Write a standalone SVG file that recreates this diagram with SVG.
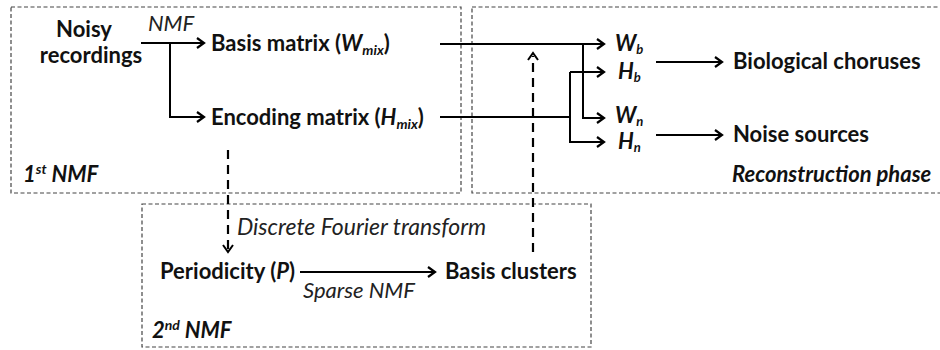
<svg xmlns="http://www.w3.org/2000/svg" width="940" height="350" viewBox="0 0 940 350">
<defs>
<marker id="ah" markerWidth="12" markerHeight="12" refX="9" refY="6" orient="auto" markerUnits="userSpaceOnUse">
<path d="M2,1 L9,6 L2,11" fill="none" stroke="#000" stroke-width="2.2"/>
</marker>
</defs>
<style>
.frame{fill:none;stroke:#444;stroke-width:1.2;stroke-dasharray:4 2.5}
.lbl{font-family:Lato,"Open Sans",sans-serif;font-weight:bold;font-size:22px;fill:#111}
.it{font-family:Lato,"Open Sans",sans-serif;font-style:italic;font-size:22px;fill:#222}
.bi{font-family:Lato,"Open Sans",sans-serif;font-style:italic;font-weight:bold;font-size:22px;fill:#111}
.sub{font-size:14px}
.sb{font-size:13px}
.ln{fill:none;stroke:#000;stroke-width:2}
.dl{fill:none;stroke:#000;stroke-width:2.2;stroke-dasharray:9 6}
</style>
<g id="frames">
<rect id="frame1" class="frame" x="11" y="7" width="450" height="186"/>
<rect id="frame2" class="frame" x="472" y="7" width="470" height="186"/>
<rect id="frame3" class="frame" x="142" y="204" width="449" height="143"/>
</g>
<g id="connectors">
<path class="ln" d="M141,43 H204" marker-end="url(#ah)"/>
<path class="ln" d="M170,43 V117 H204" marker-end="url(#ah)"/>
<path class="ln" d="M440,44 H604" marker-end="url(#ah)"/>
<path class="ln" d="M583,44 V118 H604" marker-end="url(#ah)"/>
<path class="ln" d="M440,117 H570"/>
<path class="ln" d="M570,72 H604" marker-end="url(#ah)"/>
<path class="ln" d="M570,72 V142 H604" marker-end="url(#ah)"/>
<path class="ln" d="M656,62 H722" marker-end="url(#ah)"/>
<path class="ln" d="M656,135 H722" marker-end="url(#ah)"/>
<path class="ln" d="M300,272 H435" marker-end="url(#ah)"/>
<path class="dl" d="M228,150 V250"/>
<path class="ln" d="M223,245 L228,252 L233,245"/>
<path class="dl" d="M533,252 V56"/>
<path class="ln" d="M528,60 L533,53 L538,60"/>
</g>
<g id="n-noisy"><text class="lbl" x="84" y="37" text-anchor="middle">Noisy</text><text class="lbl" x="91" y="63" text-anchor="middle">recordings</text></g>
<g id="l-nmf"><text class="it" x="148" y="31">NMF</text></g>
<g id="n-basis"><text class="lbl" x="211" y="51">Basis matrix (<tspan font-style="italic">W</tspan><tspan class="sub" font-style="italic" dy="4">mix</tspan><tspan dy="-4">)</tspan></text></g>
<g id="n-encoding"><text class="lbl" x="211" y="125">Encoding matrix (<tspan font-style="italic">H</tspan><tspan class="sub" font-style="italic" dy="4">mix</tspan><tspan dy="-4">)</tspan></text></g>
<g id="l-1st"><text class="bi" x="23" y="182">1<tspan class="sub" dy="-8">st</tspan><tspan dy="8"> NMF</tspan></text></g>
<g id="n-wb"><text class="lbl" x="615" y="51" font-style="italic">W<tspan class="sb" dy="3">b</tspan></text></g>
<g id="n-hb"><text class="lbl" x="618" y="79" font-style="italic">H<tspan class="sb" dy="3">b</tspan></text></g>
<g id="n-wn"><text class="lbl" x="615" y="123" font-style="italic">W<tspan class="sb" dy="3">n</tspan></text></g>
<g id="n-hn"><text class="lbl" x="618" y="149" font-style="italic">H<tspan class="sb" dy="3">n</tspan></text></g>
<g id="n-bio"><text class="lbl" x="733" y="69">Biological choruses</text></g>
<g id="n-noise"><text class="lbl" x="733" y="142">Noise sources</text></g>
<g id="l-recon"><text class="bi" x="732" y="182">Reconstruction phase</text></g>
<g id="l-dft"><text class="it" x="237" y="235" style="font-size:23px">Discrete Fourier transform</text></g>
<g id="n-period"><text class="lbl" x="160" y="279">Periodicity (<tspan font-style="italic">P</tspan>)</text></g>
<g id="n-clusters"><text class="lbl" x="445" y="279">Basis clusters</text></g>
<g id="l-sparse"><text class="it" x="303" y="298">Sparse NMF</text></g>
<g id="l-2nd"><text class="bi" x="152" y="338">2<tspan class="sub" dy="-8">nd</tspan><tspan dy="8"> NMF</tspan></text></g>
</svg>
